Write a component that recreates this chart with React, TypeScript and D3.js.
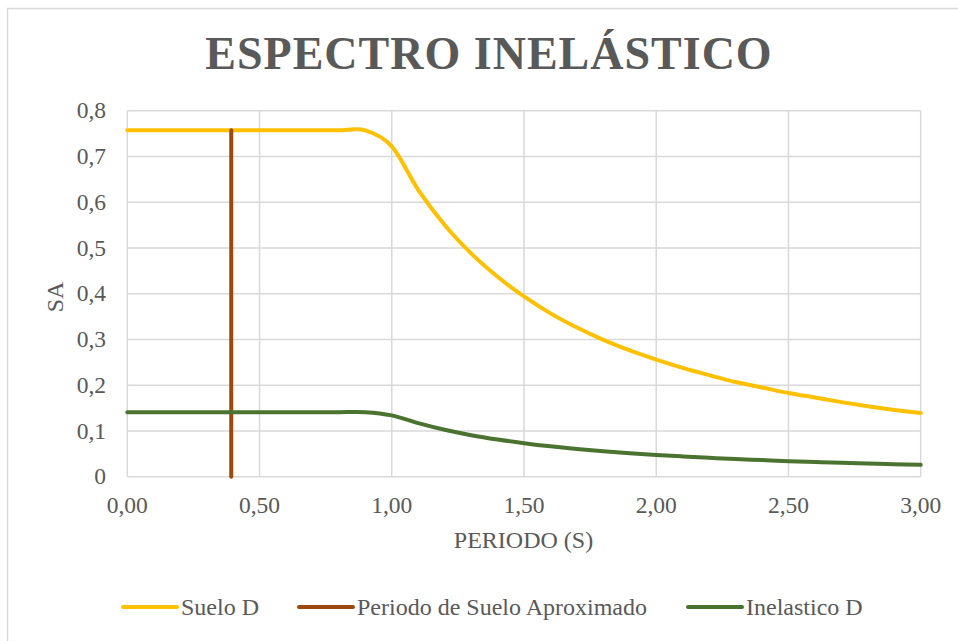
import React, { useEffect, useRef } from "react";
import * as d3 from "d3";

// Period (s) sample points
const periods = [
  0.0, 0.1, 0.2, 0.3, 0.4, 0.5, 0.6, 0.7, 0.8, 0.9, 1.0, 1.1, 1.2, 1.3, 1.4, 1.5,
  1.6, 1.7, 1.8, 1.9, 2.0, 2.1, 2.2, 2.3, 2.4, 2.5, 2.6, 2.7, 2.8, 2.9, 3.0,
];

// Elastic spectrum, soil type D
const sueloD = [
  0.757, 0.757, 0.757, 0.757, 0.757, 0.757, 0.757, 0.757, 0.757, 0.757, 0.722,
  0.627, 0.55, 0.488, 0.437, 0.394, 0.357, 0.326, 0.299, 0.276, 0.256, 0.238,
  0.222, 0.207, 0.195, 0.183, 0.173, 0.163, 0.154, 0.146, 0.139,
];

// Inelastic spectrum, soil type D
const inelasticoD = [
  0.141, 0.141, 0.141, 0.141, 0.141, 0.141, 0.141, 0.141, 0.141, 0.141, 0.134,
  0.117, 0.1025, 0.0908, 0.0813, 0.0733, 0.0664, 0.0606, 0.0556, 0.0513, 0.0476,
  0.0443, 0.0413, 0.0385, 0.0363, 0.034, 0.0322, 0.0303, 0.0287, 0.0272, 0.0259,
];

// Approximate fundamental period of the soil
const periodoSuelo = [
  { t: 0.393, sa: 0 },
  { t: 0.393, sa: 0.757 },
];

const xTicks = [0, 0.5, 1.0, 1.5, 2.0, 2.5, 3.0];
const yTicks = [0, 0.1, 0.2, 0.3, 0.4, 0.5, 0.6, 0.7, 0.8];

const seriesNames = ["Suelo D", "Periodo de Suelo Aproximado", "Inelastico D"];
const seriesColors = ["#FFC000", "#9E480E", "#4B7330"];

const W = 958;
const H = 641;
const margin = { left: 127.3, right: 958 - 920.7, top: 110.7, bottom: 641 - 476.7 };
const FONT = "'Liberation Serif', 'Times New Roman', serif";
const TEXT = "#595959";
const GRID = "#D9D9D9";

export default function App() {
  const ref = useRef<SVGSVGElement | null>(null);

  useEffect(() => {
    const svg = d3.select(ref.current);
    svg.selectAll("*").remove();

    const x = d3.scaleLinear().domain([0, 3]).range([margin.left, W - margin.right]);
    const y = d3.scaleLinear().domain([0, 0.8]).range([H - margin.bottom, margin.top]);

    svg.append("rect").attr("width", W).attr("height", H).attr("fill", "#fff");

    // Chart area frame
    svg
      .append("rect")
      .attr("x", 7.5)
      .attr("y", 8.5)
      .attr("width", 1200)
      .attr("height", 1200)
      .attr("fill", "none")
      .attr("stroke", GRID)
      .attr("stroke-width", 1.5);

    // Title
    svg
      .append("text")
      .attr("x", 489)
      .attr("y", 69)
      .attr("text-anchor", "middle")
      .attr("font-family", FONT)
      .attr("font-weight", "bold")
      .attr("font-size", 46)
      .attr("letter-spacing", 1)
      .attr("fill", TEXT)
      .text("ESPECTRO INELÁSTICO");

    // Gridlines
    const grid = svg.append("g");
    grid
      .selectAll("line.h")
      .data(yTicks)
      .join("line")
      .attr("x1", x(0))
      .attr("x2", x(3))
      .attr("y1", (d) => y(d))
      .attr("y2", (d) => y(d))
      .attr("stroke", GRID)
      .attr("stroke-width", 1.5);
    grid
      .selectAll("line.v")
      .data(xTicks)
      .join("line")
      .attr("x1", (d) => x(d))
      .attr("x2", (d) => x(d))
      .attr("y1", y(0))
      .attr("y2", y(0.8))
      .attr("stroke", GRID)
      .attr("stroke-width", 1.5);

    // Tick labels
    const fmtX = (d: number) => d.toFixed(2).replace(".", ",");
    const fmtY = (d: number) => (d === 0 ? "0" : d.toFixed(1).replace(".", ","));
    svg
      .append("g")
      .selectAll("text")
      .data(xTicks)
      .join("text")
      .attr("x", (d) => x(d))
      .attr("y", 513)
      .attr("text-anchor", "middle")
      .attr("font-family", FONT)
      .attr("font-size", 23.5)
      .attr("fill", TEXT)
      .text(fmtX);
    svg
      .append("g")
      .selectAll("text")
      .data(yTicks)
      .join("text")
      .attr("x", 106)
      .attr("y", (d) => y(d))
      .attr("dy", "0.33em")
      .attr("text-anchor", "end")
      .attr("font-family", FONT)
      .attr("font-size", 23.5)
      .attr("fill", TEXT)
      .text(fmtY);

    // Axis titles
    svg
      .append("text")
      .attr("x", 523.5)
      .attr("y", 548)
      .attr("text-anchor", "middle")
      .attr("font-family", FONT)
      .attr("font-size", 24)
      .attr("fill", TEXT)
      .text("PERIODO (S)");
    svg
      .append("text")
      .attr("transform", `translate(63,${297}) rotate(-90)`)
      .attr("text-anchor", "middle")
      .attr("font-family", FONT)
      .attr("font-size", 24)
      .attr("fill", TEXT)
      .text("SA");

    // Series
    const line = d3
      .line<number>()
      .x((_, i) => x(periods[i]))
      .y((d) => y(d))
      .curve(d3.curveCatmullRom.alpha(0));

    svg
      .append("path")
      .datum(sueloD)
      .attr("d", line)
      .attr("fill", "none")
      .attr("stroke", seriesColors[0])
      .attr("stroke-width", 4)
      .attr("stroke-linecap", "round");

    svg
      .append("path")
      .datum(periodoSuelo)
      .attr(
        "d",
        d3
          .line<{ t: number; sa: number }>()
          .x((d) => x(d.t))
          .y((d) => y(d.sa))
      )
      .attr("fill", "none")
      .attr("stroke", seriesColors[1])
      .attr("stroke-width", 4)
      .attr("stroke-linecap", "round");

    svg
      .append("path")
      .datum(inelasticoD)
      .attr("d", line)
      .attr("fill", "none")
      .attr("stroke", seriesColors[2])
      .attr("stroke-width", 4)
      .attr("stroke-linecap", "round");

    // Legend
    const legendX = [123, 299, 688];
    const lg = svg.append("g");
    seriesNames.forEach((name, i) => {
      lg.append("line")
        .attr("x1", legendX[i])
        .attr("x2", legendX[i] + 54)
        .attr("y1", 607)
        .attr("y2", 607)
        .attr("stroke", seriesColors[i])
        .attr("stroke-width", 4)
        .attr("stroke-linecap", "round");
      lg.append("text")
        .attr("x", legendX[i] + 58)
        .attr("y", 607)
        .attr("dy", "0.33em")
        .attr("font-family", FONT)
        .attr("font-size", 24)
        .attr("fill", TEXT)
        .text(name);
    });
  }, []);

  return (
    <svg
      ref={ref}
      width={W}
      height={H}
      style={{ position: "absolute", left: 0, top: 0, display: "block" }}
    />
  );
}
